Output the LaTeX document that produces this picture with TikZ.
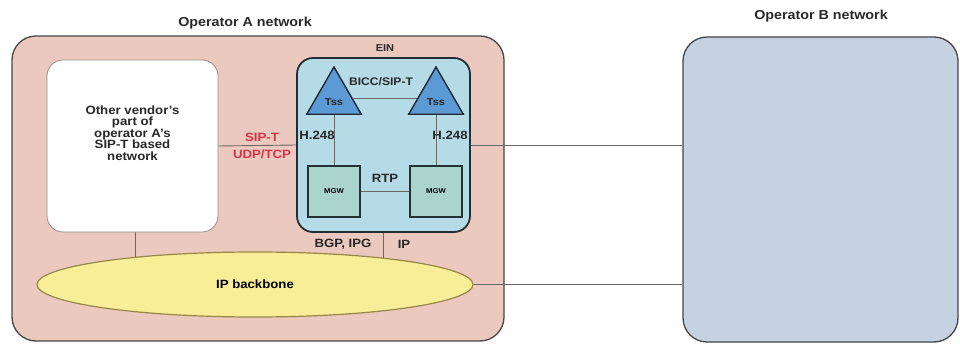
\documentclass[tikz,border=0pt]{standalone}
\usepackage{fontspec}
\setmainfont{Liberation Sans}[FakeStretch=1.1]
\usepackage{tikz}
\usetikzlibrary{shapes.geometric}

\definecolor{opapink}{RGB}{236,201,190}
\definecolor{opbblue}{RGB}{197,210,226}
\definecolor{einblue}{RGB}{180,219,230}
\definecolor{tssblue}{RGB}{92,154,214}
\definecolor{mgwteal}{RGB}{170,212,204}
\definecolor{bbyellow}{RGB}{248,238,152}
\definecolor{bbedge}{RGB}{150,135,70}
\definecolor{wiregrey}{RGB}{105,105,105}
\definecolor{protored}{RGB}{214,52,72}

\pgfdeclarelayer{boxes}
\pgfdeclarelayer{wires}
\pgfsetlayers{boxes,wires,main}

\begin{document}
\begin{tikzpicture}[x=1pt,y=1pt,yscale=-1,xscale=1,
  opbox/.style={draw={rgb,255:red,70;green,70;blue,70},line width=1.3pt,rounded corners=24pt},
  title/.style={font=\bfseries\fontsize{13}{13}\selectfont,text={rgb,255:red,40;green,40;blue,40},inner sep=0pt},
  lbl/.style={font=\bfseries\fontsize{12}{12}\selectfont,text={rgb,255:red,40;green,40;blue,40},inner sep=0pt},
  redlbl/.style={lbl,text=protored},
  wire/.style={draw=wiregrey,line width=0.9pt},
  tss/.style={regular polygon,regular polygon sides=3,minimum size=63pt,inner sep=0pt,draw={rgb,255:red,30;green,40;blue,50},line width=1.4pt,fill=tssblue},
  mgw/.style={rectangle,minimum width=52pt,minimum height=51pt,inner sep=0pt,draw={rgb,255:red,35;green,50;blue,50},line width=2pt,fill=mgwteal,font=\bfseries\fontsize{7}{7}\selectfont}]
\useasboundingbox (0,0) rectangle (960,344);

%Shape: Operator boxes
\begin{pgfonlayer}{boxes}
\node[opbox,fill=opapink,minimum width=492pt,minimum height=305pt] (opA) at (258,188.5) {};
\node[opbox,fill=opbblue,minimum width=275pt,minimum height=305pt] (opB) at (820.5,189.5) {};
\end{pgfonlayer}

%Shape: Other vendor's network
\node[draw={rgb,255:red,150;green,140;blue,135},line width=0.8pt,fill=white,rounded corners=16pt,minimum width=171pt,minimum height=172pt] (vendor) at (132.5,146) {};
%Shape: EIN
\node[draw={rgb,255:red,35;green,45;blue,50},line width=1.8pt,fill=einblue,rounded corners=16pt,minimum width=173pt,minimum height=174pt] (ein) at (383.5,145) {};
%Shape: Tss
\node[tss] (tssL) at (334,98.5) {};
\node[tss] (tssR) at (436,98.5) {};
%Shape: MGW
\node[mgw] (mgwL) at (334,191.5) {MGW};
\node[mgw] (mgwR) at (436,191.5) {MGW};
%Shape: IP backbone
\node[ellipse,draw=bbedge,line width=1.2pt,fill=bbyellow,minimum width=436pt,minimum height=65pt,font=\bfseries\fontsize{12}{12}\selectfont] (bb) at (255,284.5) {IP backbone};

\coordinate (vdrop) at (135,232);

%Straight Lines
\begin{pgfonlayer}{wires}
\draw[wire] (vendor.east) -- (ein.west);
\draw[wire] (ein.east) -- (ein.east -| opB.west);
\draw[wire] (bb.east) -- (bb.east -| opB.west);
\draw[wire] (vdrop) -- (vdrop |- bb.center);
\draw[wire] (ein.south) -- (ein.south |- bb.center);
\end{pgfonlayer}
\draw[wire] (tssL.east) -- (tssR.west);
\draw[wire] (tssL.south) -- (mgwL.north);
\draw[wire] (tssR.south) -- (mgwR.north);
\draw[wire] (mgwL.east) -- (mgwR.west);

% Text Node
\node[lbl,align=center,font=\bfseries\fontsize{12}{11.4}\selectfont] (vendortxt) at (132.5,133) {Other vendor's\\part of\\operator A's\\SIP-T based\\network};
% Text Node
\node[lbl,font=\bfseries\fontsize{10}{10}\selectfont] (tssLtxt) at (334,102) {Tss};
% Text Node
\node[lbl,font=\bfseries\fontsize{10}{10}\selectfont] (tssRtxt) at (436,102) {Tss};
% Text Node
\node[title] (opAtitle) at (245,23) {Operator A network};
% Text Node
\node[title] (opBtitle) at (821,16) {Operator B network};
% Text Node
\node[lbl,font=\bfseries\fontsize{10}{10}\selectfont] (einlbl) at (385,48) {EIN};
% Text Node
\node[lbl,font=\bfseries\fontsize{11}{11}\selectfont] (bicc) at (381,82) {BICC/SIP-T};
% Text Node
\node[lbl] (h248L) at (317,135) {H.248};
% Text Node
\node[lbl] (h248R) at (450,135) {H.248};
% Text Node
\node[lbl] (rtp) at (385,178) {RTP};
% Text Node
\node[redlbl] (sipt) at (262,137) {SIP-T};
% Text Node
\node[redlbl] (udptcp) at (262,154) {UDP/TCP};
% Text Node
\node[lbl] (bgp) at (343,244) {BGP, IPG};
% Text Node
\node[lbl] (iplbl) at (404,244) {IP};
\end{tikzpicture}
\end{document}
